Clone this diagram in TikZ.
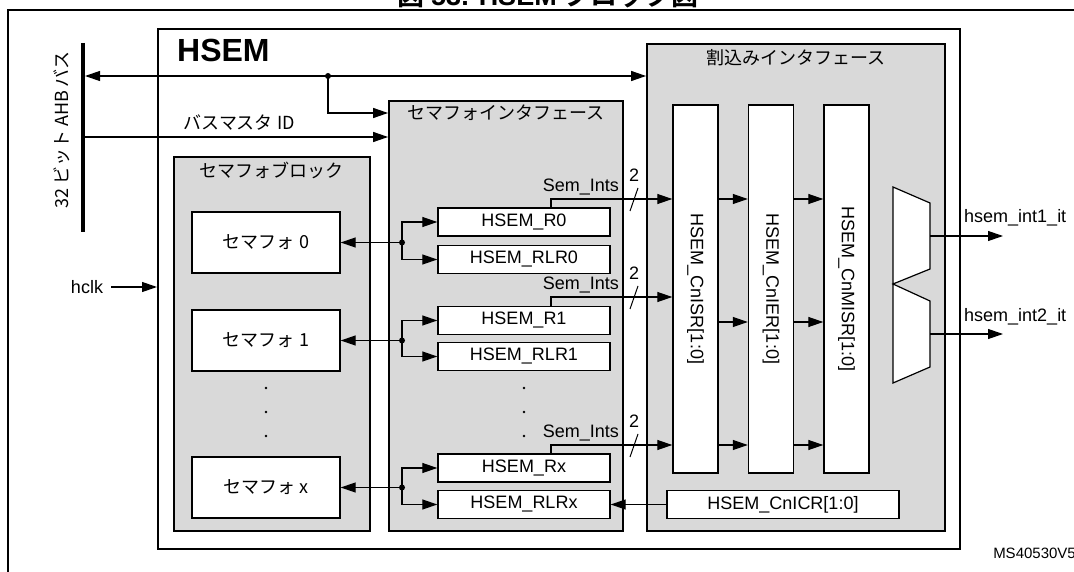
\documentclass[tikz,border=0pt]{standalone}
\usepackage{fontspec}
\setmainfont{Liberation Sans}
\newfontfamily\jp{Noto Sans CJK JP}[BoldFont={Noto Sans CJK JP Bold}]
\usetikzlibrary{arrows.meta,calc}
\definecolor{boxgray}{RGB}{217,217,217}
\begin{document}
\begin{tikzpicture}[x=1pt,y=-1pt,
  lat/.style={font=\fontsize{18}{20}\selectfont},
  jpf/.style={font=\jp\fontsize{18}{20}\selectfont},
  >={Triangle[length=15pt,width=10pt]},
  arr/.style={->,line width=1.2pt},
  grp/.style={draw,line width=1.8pt,fill=boxgray,inner sep=0pt},
  wbox/.style={draw,line width=1.4pt,fill=white,inner sep=0pt},
  reg/.style={wbox,lat,minimum width=172pt,minimum height=28pt},
  sem/.style={wbox,jpf,minimum width=148pt,minimum height=61pt},
  col/.style={wbox,minimum width=45pt,minimum height=368pt},
]
\useasboundingbox (0,0) rectangle (1074,572);
\clip (0,0) rectangle (1074,572);

% title (cut off at the top)
\node[font=\fontsize{27}{29}\selectfont\bfseries,anchor=base,inner sep=0pt] (title) at (548,6) {{\jp 図}\hspace{7pt}53. HSEM\hspace{7pt}{\jp ブロック図}};
% outer frame
\draw[line width=2pt] (8,600) -- (8,10) -- (1100,10);

% HSEM box
\node[draw,line width=2pt,fill=white,inner sep=0pt,minimum width=802pt,minimum height=520pt] (HSEM) at (559,289) {};
\node[font=\bfseries\fontsize{32}{34}\selectfont,anchor=west,inner sep=0pt] (hsemlbl) at (177,50) {HSEM};

% group boxes
\node[grp,minimum width=196pt,minimum height=374pt] (SB) at (272,344) {};
\node[jpf] (SBl) at (271,170) {セマフォブロック};
\node[grp,minimum width=234pt,minimum height=430pt] (SIF) at (506,316) {};
\node[jpf] (SIFl) at (506,113) {セマフォインタフェース};
\node[grp,minimum width=298pt,minimum height=487pt] (IIF) at (796,287.5) {};
\node[jpf] (IIFl) at (796,58) {割込みインタフェース};

% semaphores
\node[sem] (S0) at (266,242.5) {セマフォ 0};
\node[sem] (S1) at (266,340.5) {セマフォ 1};
\node[sem] (SX) at (266,487.5) {セマフォ x};

% registers
\node[reg] (R0) at (524,222) {HSEM\_R0};
\node[reg] (RLR0) at (524,259.5) {HSEM\_RLR0};
\node[reg] (R1) at (524,320.5) {HSEM\_R1};
\node[reg] (RLR1) at (524,356.5) {HSEM\_RLR1};
\node[reg] (RX) at (524,468) {HSEM\_Rx};
\node[reg] (RLRX) at (524,504.5) {HSEM\_RLRx};

% interrupt registers
\node[col] (ISR) at (695.5,289) {};
\node[col] (IER) at (771,289) {};
\node[col] (MISR) at (846.5,289) {};
\node[lat,rotate=-90] (ISRl) at (ISR.center) {HSEM\_CnISR[1:0]};
\node[lat,rotate=-90] (IERl) at (IER.center) {HSEM\_CnIER[1:0]};
\node[lat,rotate=-90] (MISRl) at (MISR.center) {HSEM\_CnMISR[1:0]};
\node[reg,minimum width=232pt] (ICR) at (783,504.5) {HSEM\_CnICR[1:0]};

% multiplexers
\draw[line width=1.2pt,fill=white] (893,187) -- (930,203) -- (930,269) -- (893,284) -- (930,301) -- (930,367) -- (893,383) -- cycle;
\coordinate (m1) at (930,236);
\coordinate (m2) at (930,334);
\coordinate (o1) at (1003,236);
\coordinate (o2) at (1003,334);
\draw[arr] (m1) -- (o1);
\draw[arr] (m2) -- (o2);
\node[lat,anchor=west,inner sep=0pt] (o1l) at (964,218) {hsem\_int1\_it};
\node[lat,anchor=west,inner sep=0pt] (o2l) at (964,317) {hsem\_int2\_it};

% AHB bus
\coordinate (busT) at (83,43);
\coordinate (busB) at (83,232);
\draw[line width=3.5pt] (busT) -- (busB);
\node[jpf,rotate=90] (buslbl) at (62,130) {32 ビット AHB バス};
\coordinate (bA) at (85,76);
\coordinate (j1) at (328,76);
\coordinate (yb) at (0,113);
\coordinate (bB) at (85,137);
\draw[arr,<->] (bA) -- (bA -| IIF.west);
\draw[arr] (j1) |- (SIF.west |- yb);
\fill (j1) circle (3pt);
\draw[arr] (bB) -- (bB -| SIF.west);
\node[jpf,anchor=west] (idl) at (180,123) {バスマスタ ID};

% hclk
\node[lat,inner sep=0pt] (hclk) at (87,287) {hclk};
\draw[arr] ([xshift=8pt]hclk.east) -- (hclk.east -| HSEM.west);

% semaphore <-> registers
\coordinate (dx) at (402,0);
\foreach \s/\a/\b in {S0/R0/RLR0,S1/R1/RLR1,SX/RX/RLRX}{
  \draw[arr] (\s.east -| dx) -- (\s.east);
  \draw[arr] (\s.east -| dx) |- (\a.west);
  \draw[arr] (\s.east -| dx) |- (\b.west);
  \fill (\s.east -| dx) circle (3pt);
}

% Sem_Ints lines
\foreach \r/\y/\z in {R0/199/199,R1/297/322,RX/445/445}{
  \coordinate (s) at (551,\y);
  \coordinate (t) at (0,\z);
  \draw[arr] (\r.north -| s) |- (s -| ISR.west);
  \draw[line width=1pt] (638,{\y-11}) -- (630,{\y+12});
  \node[lat,anchor=east,inner sep=0pt] at (619,{\y-12}) {Sem\_Ints};
  \node[lat,inner sep=0pt] at (634,{\y-24}) {2};
  \draw[arr] (ISR.east |- t) -- (IER.west |- t);
  \draw[arr] (IER.east |- t) -- (MISR.west |- t);
}

% ICR -> RLRx
\draw[arr] (ICR.west) -- (RLRX.east);

% ellipsis dots
\foreach \y in {388,412,436}{
  \fill (266,\y) circle (1.3pt);
  \fill (524,\y) circle (1.3pt);
}

\node[font=\fontsize{15}{17}\selectfont,anchor=east,inner sep=0pt] (ms) at (1076,553) {MS40530V5};
\end{tikzpicture}
\end{document}
